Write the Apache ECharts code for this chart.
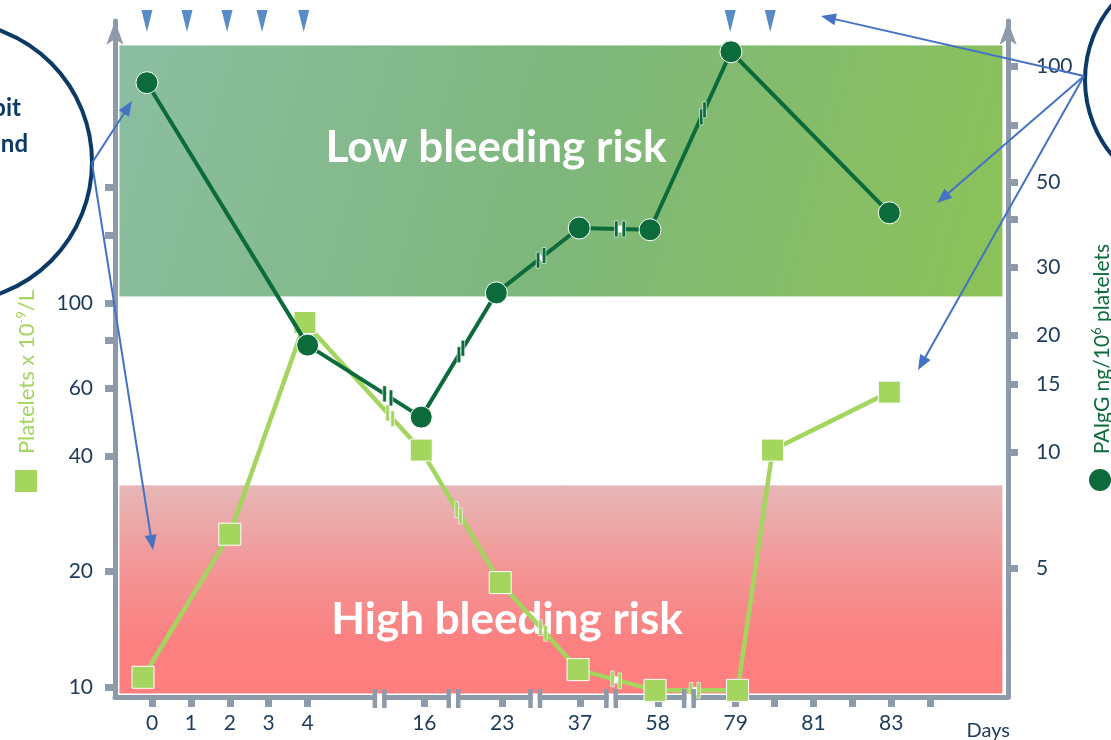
<!DOCTYPE html>
<html>
<head>
<meta charset="utf-8">
<script src="https://cdn.jsdelivr.net/npm/echarts@6/dist/echarts.min.js"></script>
<style>
html,body{margin:0;padding:0;background:#ffffff;}
#chart{width:1111px;height:740px;}
</style>
</head>
<body>
<div id="chart"></div>
<script>
// ---------------- data ----------------
// x axis is a "slot" axis: each labelled day occupies one slot, broken segments skip slots
const dayLabels      = ['0','1','2','3','4','16','23','37','58','79','81','83'];
const dayLabelSlots  = [0, 1, 2, 3, 4, 7, 9, 11, 13, 15, 17, 19];
const dayTickSlots   = [0, 1, 2, 3, 4, 7, 9, 11, 13, 15, 16, 17, 18, 19, 20];
const axisBreakSlots = [5.85, 7.75, 9.85, 11.8, 13.8];

// Platelets x 10^9/L (left log axis)
const plateletSlots  = [-0.23, 2, 3.93, 6.92, 8.95, 10.95, 12.93, 15.05, 15.95, 18.95];
const plateletValues = [10.6, 25, 89, 41.4, 18.7, 11.1, 9.8, 9.8, 41.4, 58.6];
const plateletBreakSlots = [6.12, 7.88, 10.05, 11.93, 13.95];

// PAIgG ng/10^6 platelets (right log axis)
const paiggSlots  = [-0.13, 4, 6.92, 8.85, 10.98, 12.8, 14.88, 18.95];
const paiggValues = [90.4, 18.9, 12.3, 25.8, 38, 37.6, 108.7, 41.6];
const paiggBreakSlots = [6.06, 7.94, 10.0, 12.03, 14.16];

// treatment markers (blue triangles on top)
const doseSlots = [-0.13, 0.9, 1.93, 2.83, 3.9, 14.86, 15.89];

// axes
const leftTicks   = [10, 20, 40, 60, 80, 100, 150, 200];
const leftLabels  = [10, 20, 40, 60, 100];
const rightTicks  = [5, 10, 15, 20, 30, 40, 50, 70, 100];
const rightLabels = [5, 10, 15, 20, 30, 50, 100];

// risk zones (platelet units)
const lowRiskZone  = [103.7, 470];
const highRiskZone = [9.59, 33.6];

// ---------------- styles ----------------
const GRAY = '#8D9AAA';
const LABEL = '#1C3A5B';
const LIGHT = '#A3D55F';
const DARK = '#0B6B3B';
const BLUE = '#4472C4';
const NAVY = '#0C3A66';
const FONT = 'Lato';

const leftMin = 9.418, leftMax = 542.5;
const rightMin = 2.317, rightMax = 130.6;
const xMin = -0.95, xMax = 22;

const zoneX = [-0.848, 21.87];

function lineBreakSeries(xs, vals, breaks, yIdx, color) {
  return {
    type: 'custom', yAxisIndex: yIdx, z: 7, silent: true,
    data: breaks.map(b => [b]),
    renderItem: (params, api) => {
      const bx = api.value(0);
      let i = 0;
      while (i < xs.length - 2 && xs[i + 1] < bx) i++;
      const p1 = api.coord([xs[i], vals[i]]);
      const p2 = api.coord([xs[i + 1], vals[i + 1]]);
      const t = (bx - xs[i]) / (xs[i + 1] - xs[i]);
      const px = p1[0] + t * (p2[0] - p1[0]);
      const py = p1[1] + t * (p2[1] - p1[1]);
      const dx = p2[0] - p1[0], dy = p2[1] - p1[1];
      const L = Math.hypot(dx, dy) || 1;
      const ux = dx / L, uy = dy / L;
      const off = 3.8;
      const bar = s => ({
        type: 'rect',
        shape: { x: px + s * off * ux - 1.8, y: py + s * off * uy - 8, width: 3.6, height: 16 },
        style: { fill: color, stroke: '#ffffff', lineWidth: 0.6 }
      });
      return {
        type: 'group',
        children: [
          { type: 'line', shape: { x1: px - 2 * ux, y1: py - 2 * uy, x2: px + 2 * ux, y2: py + 2 * uy },
            style: { stroke: '#ffffff', lineWidth: 7 } },
          bar(-1), bar(1)
        ]
      };
    }
  };
}

function arrow(x1, y1, x2, y2) {
  const dx = x2 - x1, dy = y2 - y1, L = Math.hypot(dx, dy);
  const ux = dx / L, uy = dy / L;
  const hl = 15, hw = 6;
  const bx = x2 - ux * hl, by = y2 - uy * hl;
  return [
    { type: 'line', z: 20, silent: true, shape: { x1: x1, y1: y1, x2: bx + ux * 2, y2: by + uy * 2 },
      style: { stroke: BLUE, lineWidth: 2 } },
    { type: 'polygon', z: 20, silent: true,
      shape: { points: [[x2, y2], [bx - uy * hw, by + ux * hw], [bx + uy * hw, by - ux * hw]] },
      style: { fill: BLUE } }
  ];
}

const chart = echarts.init(document.getElementById('chart'), null, { renderer: 'canvas' });

const option = {
  animation: false,
  backgroundColor: '#ffffff',
  grid: { left: 115, right: 103, top: 21, bottom: 43, containLabel: false },
  xAxis: {
    type: 'value', min: xMin, max: xMax,
    axisLine: { show: true, onZero: false, lineStyle: { color: GRAY, width: 5 } },
    axisTick: { show: true, customValues: dayTickSlots, length: 10, lineStyle: { color: GRAY, width: 7 } },
    axisLabel: {
      customValues: dayLabelSlots, margin: 16, color: LABEL, fontSize: 21, fontFamily: FONT,
      formatter: v => { const i = dayLabelSlots.indexOf(Math.round(v)); return i >= 0 ? dayLabels[i] : ''; }
    },
    splitLine: { show: false }
  },
  yAxis: [
    {
      type: 'log', logBase: 10, min: leftMin, max: leftMax, position: 'left',
      axisLine: { show: true, onZero: false, symbol: ['none', 'arrow'], symbolSize: [13, 24],
        lineStyle: { color: GRAY, width: 5 } },
      axisTick: { show: true, customValues: leftTicks, length: 10, lineStyle: { color: GRAY, width: 7 } },
      axisLabel: { customValues: leftLabels, margin: 22, color: LABEL, fontSize: 21, fontFamily: FONT,
        formatter: v => String(Math.round(v)) },
      splitLine: { show: false }
    },
    {
      type: 'log', logBase: 10, min: rightMin, max: rightMax, position: 'right',
      axisLine: { show: true, onZero: false, symbol: ['none', 'arrow'], symbolSize: [13, 24],
        lineStyle: { color: GRAY, width: 5 } },
      axisTick: { show: true, customValues: rightTicks, length: 10, lineStyle: { color: GRAY, width: 7 } },
      axisLabel: { customValues: rightLabels, margin: 28, color: LABEL, fontSize: 21, fontFamily: FONT,
        formatter: v => String(Math.round(v)) },
      splitLine: { show: false }
    }
  ],
  series: [
    {
      name: 'zones', type: 'line', yAxisIndex: 0, z: 1, data: [], silent: true,
      markArea: {
        silent: true,
        data: [
          [
            { xAxis: zoneX[0], yAxis: lowRiskZone[1],
              itemStyle: {
                color: { type: 'linear', x: 0, y: 0, x2: 1, y2: 1,
                  colorStops: [{ offset: 0, color: '#8BBEA2' }, { offset: 0.5, color: '#7EB77B' }, { offset: 1, color: '#8CC257' }] },
                borderColor: '#ffffff', borderWidth: 1
              } },
            { xAxis: zoneX[1], yAxis: lowRiskZone[0] }
          ],
          [
            { xAxis: zoneX[0], yAxis: highRiskZone[1],
              itemStyle: {
                color: { type: 'linear', x: 0, y: 0, x2: 0, y2: 1,
                  colorStops: [{ offset: 0, color: '#E6B7B7' }, { offset: 0.4, color: '#F39595' }, { offset: 0.75, color: '#FC8080' }, { offset: 1, color: '#FF7E7E' }] },
                borderColor: '#ffffff', borderWidth: 1
              } },
            { xAxis: zoneX[1], yAxis: highRiskZone[0] }
          ]
        ]
      }
    },
    {
      name: 'Platelets', type: 'line', yAxisIndex: 0, z: 5,
      data: plateletSlots.map((x, i) => [x, plateletValues[i]]),
      symbol: 'rect', symbolSize: 22,
      lineStyle: { color: LIGHT, width: 4.5 },
      itemStyle: { color: LIGHT, borderColor: '#ffffff', borderWidth: 1 }
    },
    {
      name: 'PAIgG', type: 'line', yAxisIndex: 1, z: 6,
      data: paiggSlots.map((x, i) => [x, paiggValues[i]]),
      symbol: 'circle', symbolSize: 22,
      lineStyle: { color: DARK, width: 4 },
      itemStyle: { color: DARK, borderColor: '#ffffff', borderWidth: 1 }
    },
    lineBreakSeries(plateletSlots, plateletValues, plateletBreakSlots, 0, LIGHT),
    lineBreakSeries(paiggSlots, paiggValues, paiggBreakSlots, 1, DARK),
    {
      name: 'axisBreaks', type: 'custom', yAxisIndex: 0, z: 8, silent: true,
      data: axisBreakSlots.map(s => [s]),
      renderItem: (params, api) => {
        const p = api.coord([api.value(0), leftMin]);
        const cs = params.coordSys;
        const y = cs.y + cs.height;
        const x = p[0];
        return {
          type: 'group',
          children: [
            { type: 'rect', shape: { x: x - 2.5, y: y - 3, width: 5, height: 6 }, style: { fill: '#ffffff' } },
            { type: 'rect', shape: { x: x - 7, y: y - 8, width: 4.5, height: 19 }, style: { fill: GRAY } },
            { type: 'rect', shape: { x: x + 2.5, y: y - 8, width: 4.5, height: 19 }, style: { fill: GRAY } }
          ]
        };
      }
    },
    {
      name: 'dose', type: 'scatter', yAxisIndex: 0, z: 9, clip: false, silent: true,
      data: doseSlots.map(x => [x, leftMax]),
      symbol: 'triangle', symbolRotate: 180, symbolSize: [11, 22],
      itemStyle: { color: '#2F6EBA' }
    }
  ],
  graphic: [
    { type: 'text', z: 3, silent: true, x: 496, y: 148,
      style: { text: 'Low bleeding risk', fill: '#ffffff', fontSize: 44, fontWeight: 'bold', fontFamily: FONT, align: 'center', verticalAlign: 'middle' } },
    { type: 'text', z: 3, silent: true, x: 507, y: 620,
      style: { text: 'High bleeding risk', fill: '#ffffff', fontSize: 44, fontWeight: 'bold', fontFamily: FONT, align: 'center', verticalAlign: 'middle' } },
    { type: 'text', z: 3, silent: true, x: 1010, y: 731,
      style: { text: 'Days', fill: LABEL, fontSize: 20, fontFamily: FONT, align: 'right', verticalAlign: 'middle' } },
    // left axis name
    { type: 'text', z: 3, silent: true, x: 27, y: 372, rotation: Math.PI / 2,
      style: { text: 'Platelets x 10{sup|-9}/L', fill: LIGHT, fontSize: 22, fontFamily: FONT, align: 'center', verticalAlign: 'middle',
        rich: { sup: { fontSize: 13, fill: LIGHT, fontFamily: FONT, verticalAlign: 'top', padding: [0, 0, 10, 0] } } } },
    { type: 'rect', z: 3, silent: true, shape: { x: 15, y: 470, width: 22, height: 22 }, style: { fill: LIGHT } },
    // right axis name
    { type: 'text', z: 3, silent: true, x: 1102, y: 349, rotation: Math.PI / 2,
      style: { text: 'PAIgG ng/10{sup|6} platelets', fill: DARK, fontSize: 21, fontFamily: FONT, align: 'center', verticalAlign: 'middle',
        rich: { sup: { fontSize: 13, fill: DARK, fontFamily: FONT, verticalAlign: 'top', padding: [0, 0, 10, 0] } } } },
    { type: 'circle', z: 3, silent: true, shape: { cx: 1100, cy: 480, r: 11 }, style: { fill: DARK } },
    // callout circles
    { type: 'circle', z: 19, silent: true, shape: { cx: -48, cy: 162, r: 140 }, style: { fill: 'none', stroke: NAVY, lineWidth: 4 } },
    { type: 'circle', z: 19, silent: true, shape: { cx: 1203, cy: 80, r: 118 }, style: { fill: 'none', stroke: NAVY, lineWidth: 4 } },
    { type: 'text', z: 19, silent: true, x: 21, y: 108,
      style: { text: 'bit', fill: NAVY, fontSize: 24, fontWeight: 'bold', fontFamily: FONT, align: 'right', verticalAlign: 'middle' } },
    { type: 'text', z: 19, silent: true, x: 28, y: 144,
      style: { text: 'and', fill: NAVY, fontSize: 24, fontWeight: 'bold', fontFamily: FONT, align: 'right', verticalAlign: 'middle' } }
  ]
    .concat(arrow(92, 163, 132, 101))
    .concat(arrow(92, 163, 153, 550))
    .concat(arrow(1084, 76, 821, 16))
    .concat(arrow(1084, 76, 937, 203))
    .concat(arrow(1084, 76, 918, 370))
};

chart.setOption(option);
</script>
</body>
</html>
